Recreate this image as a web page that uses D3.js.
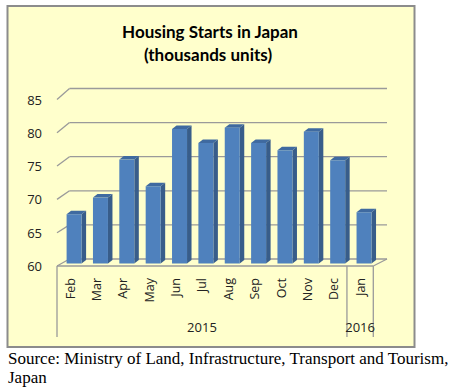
<!DOCTYPE html>
<html>
<head>
<meta charset="utf-8">
<script src="https://cdn.jsdelivr.net/npm/d3@7"></script>
<style>
  html, body { margin: 0; padding: 0; background: #ffffff; }
  svg { display: block; }
</style>
</head>
<body>
<svg id="chart" width="453" height="392"></svg>
<script>
// ---- data ----
const months = ["Feb", "Mar", "Apr", "May", "Jun", "Jul", "Aug", "Sep", "Oct", "Nov", "Dec", "Jan"];
const values = [67.4, 69.9, 75.6, 71.6, 80.2, 78.1, 80.4, 78.1, 77.0, 79.8, 75.5, 67.7];
const years = ["2015", "2016"];
const yearSpans = [11, 1];
const yTicks = [60, 65, 70, 75, 80, 85];
const titleLines = ["Housing Starts in Japan", "(thousands units)"];
const sourceLines = ["Source: Ministry of Land, Infrastructure, Transport and Tourism,", "Japan"];

const svg = d3.select("#chart");
const sans = "'Open Sans', 'DejaVu Sans', sans-serif";

// frame
svg.append("rect").attr("x", 7.5).attr("y", 6).attr("width", 407).attr("height", 341)
  .attr("fill", "#FFFFCC").attr("stroke", "#8c8c8c").attr("stroke-width", 2);

// title
svg.append("text").attr("x", 210).attr("y", 38).attr("text-anchor", "middle")
  .attr("font-family", "Lato, 'Open Sans', sans-serif").attr("font-weight", "bold").attr("font-size", 17)
  .attr("fill", "#000").text(titleLines[0]);
svg.append("text").attr("x", 208).attr("y", 60.5).attr("text-anchor", "middle")
  .attr("font-family", "Lato, 'Open Sans', sans-serif").attr("font-weight", "bold").attr("font-size", 17)
  .attr("fill", "#000").text(titleLines[1]);

// scales
const x = d3.scaleBand().domain(months).range([57, 373.3]).paddingInner(0).paddingOuter(0);
const yFront = d3.scaleLinear().domain([60, 85]).range([266, 99.5]);
const yBack = d3.scaleLinear().domain([60, 85]).range([259, 88.5]);
const yBar = d3.scaleLinear().domain([60, 85]).range([263.5, 97]);
const xFront0 = 57, xBack0 = 69.5, xBackEnd = 387;

const grid = "#9a9a9a";
// back wall gridlines and left diagonals
const g = svg.append("g");
yTicks.forEach(t => {
  if (t > 60) {
    g.append("line").attr("x1", xBack0).attr("x2", xBackEnd)
      .attr("y1", yBack(t)).attr("y2", yBack(t))
      .attr("stroke", grid).attr("stroke-width", 1.3);
  }
  g.append("line").attr("x1", xFront0).attr("y1", yFront(t))
    .attr("x2", xBack0).attr("y2", yBack(t))
    .attr("stroke", grid).attr("stroke-width", 1.3);
});

// floor
g.append("line").attr("x1", xBack0).attr("x2", xBackEnd).attr("y1", yBack(60)).attr("y2", yBack(60))
  .attr("stroke", grid).attr("stroke-width", 1.3);
g.append("line").attr("x1", x.range()[1]).attr("y1", yFront(60)).attr("x2", xBackEnd).attr("y2", yBack(60))
  .attr("stroke", grid).attr("stroke-width", 1.3);

// tick labels
svg.append("g").selectAll("text").data(yTicks).join("text")
  .attr("x", 42).attr("y", d => yFront(d) + 5)
  .attr("text-anchor", "end").attr("font-family", sans).attr("font-size", 13).attr("fill", "#222")
  .text(d => d);

// bars
const bw = 15, dx = 4.5, dy = -3.5, off = 9.6;
const bars = svg.append("g");
months.forEach((m, i) => {
  const x0 = x(m) + off, x1 = x0 + bw;
  const yt = yBar(values[i]), yb = yBar(60);
  // side
  bars.append("path").attr("d", `M${x1},${yt}L${x1 + dx},${yt + dy}L${x1 + dx},${yb + dy}L${x1},${yb}Z`)
    .attr("fill", "#385d8a");
  // top
  bars.append("path").attr("d", `M${x0},${yt}L${x0 + dx},${yt + dy}L${x1 + dx},${yt + dy}L${x1},${yt}Z`)
    .attr("fill", "#3f6aa0");
  // front
  bars.append("rect").attr("x", x0).attr("y", yt).attr("width", bw).attr("height", yb - yt)
    .attr("fill", "#4f81bd");
});

// floor front edge
svg.append("line").attr("x1", x.range()[0]).attr("x2", x.range()[1])
  .attr("y1", yFront(60)).attr("y2", yFront(60)).attr("stroke", grid).attr("stroke-width", 1.3);

// category separators
let acc = 0;
const seps = [0];
yearSpans.forEach(s => { acc += s; seps.push(acc); });
seps.forEach(k => {
  const xx = k < months.length ? x(months[k]) : x.range()[1];
  svg.append("line").attr("x1", xx).attr("x2", xx).attr("y1", yFront(60)).attr("y2", 337)
    .attr("stroke", grid).attr("stroke-width", 1.3);
});

// month labels
svg.append("g").selectAll("text").data(months).join("text")
  .attr("transform", d => `translate(${x(d) + x.bandwidth() / 2 + 4.5},278) rotate(-90)`)
  .attr("text-anchor", "end").attr("font-family", sans).attr("font-size", 12.5).attr("fill", "#222")
  .text(d => d);

// year labels
acc = 0;
years.forEach((yr, i) => {
  const a = x(months[acc]);
  acc += yearSpans[i];
  const b = acc < months.length ? x(months[acc]) : x.range()[1];
  svg.append("text").attr("x", (a + b) / 2).attr("y", 332).attr("text-anchor", "middle")
    .attr("font-family", sans).attr("font-size", 13).attr("fill", "#222").text(yr);
});

// source
sourceLines.forEach((s, i) => {
  svg.append("text").attr("x", 8).attr("y", 364 + i * 18.5)
    .attr("font-family", "'Liberation Serif', 'Times New Roman', serif").attr("font-size", 17)
    .attr("fill", "#000").text(s);
});
</script>
</body>
</html>
